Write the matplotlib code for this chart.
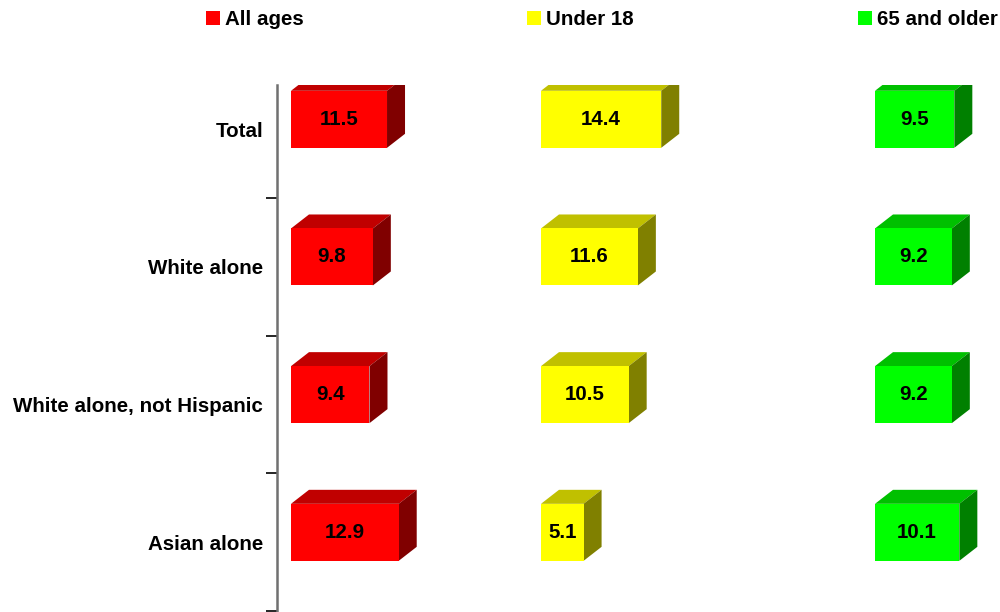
import matplotlib.pyplot as plt
from matplotlib.patches import Polygon, Rectangle

plt.rcParams['font.family'] = ['Liberation Sans', 'DejaVu Sans']

categories = ["Total", "White alone", "White alone, not Hispanic", "Asian alone"]
series_names = ["All ages", "Under 18", "65 and older"]
all_ages = [11.5, 9.8, 9.4, 12.9]
under_18 = [14.4, 11.6, 10.5, 5.1]
over_65 = [9.5, 9.2, 9.2, 10.1]

# front, top, side colours for each series
colors = [("#ff0000", "#c00000", "#800000"),
          ("#ffff00", "#c0c000", "#808000"),
          ("#00ff00", "#00c000", "#008000")]

W, H = 1000, 612
fig = plt.figure(figsize=(W / 100, H / 100), dpi=100)

px_per_unit = 8.35
band = 137.7
origin = 60.3
top_px, bot_px = 85, 611
y_top = (top_px - origin) / band - 0.5
y_bot = 3.5

def fig_rect(left, right):
    return [left / W, 1 - bot_px / H, (right - left) / W, (bot_px - top_px) / H]

# category axis
ax0 = fig.add_axes(fig_rect(277, 278))
ax0.set_ylim(y_bot, y_top)
ax0.set_xlim(0, 1)
for s in ["top", "right", "bottom"]:
    ax0.spines[s].set_visible(False)
ax0.spines["left"].set_color("#707070")
ax0.spines["left"].set_linewidth(1.8)
ax0.set_xticks([])
ax0.set_yticks([0.5, 1.5, 2.5, 3.5])
ax0.set_yticklabels([])
ax0.tick_params(axis="y", which="major", length=8, width=1.2, color="black")
ax0.set_yticks(range(len(categories)), minor=True)
ax0.set_yticklabels(categories, minor=True, fontsize=14.8, fontweight="bold")
ax0.tick_params(axis="y", which="minor", length=0, pad=10)

panels = [(291, 530, all_ages), (541, 860, under_18), (875, 1000, over_65)]
dx = 18 / px_per_unit
dy = 14 / band
y0_off, y1_off = -0.2785, 0.1355

for (left, right, vals), (cf, ct, cs) in zip(panels, colors):
    ax = fig.add_axes(fig_rect(left, right))
    ax.set_xlim(0, (right - left) / px_per_unit)
    ax.set_ylim(y_bot, y_top)
    ax.axis("off")
    for i, v in enumerate(vals):
        y0, y1 = i + y0_off, i + y1_off
        ax.add_patch(Polygon([(0, y0), (dx, y0 - dy), (v + dx, y0 - dy), (v, y0)],
                             closed=True, fc=ct, ec="none"))
        ax.add_patch(Polygon([(v, y0), (v + dx, y0 - dy), (v + dx, y1 - dy), (v, y1)],
                             closed=True, fc=cs, ec="none"))
        ax.add_patch(Rectangle((0, y0), v, y1 - y0, fc=cf, ec="none"))
        ax.text(v / 2, (y0 + y1) / 2, f"{v:.1f}", ha="center", va="center",
                fontsize=14.8, fontweight="bold", color="black")

# legend
leg_x = [206, 527, 858]
for x, name, (cf, _, _) in zip(leg_x, series_names, colors):
    fig.patches.append(Rectangle((x / W, 1 - 25 / H), 14 / W, 14 / H,
                                 transform=fig.transFigure, fc=cf, ec="none"))
    fig.text((x + 19) / W, 1 - 25 / H, name, fontsize=14.8, fontweight="bold",
             va="baseline", ha="left")

fig.savefig("out.png", dpi=100)
